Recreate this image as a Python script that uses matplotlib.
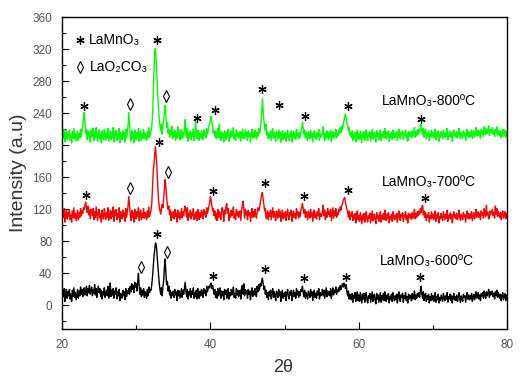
import numpy as np
import matplotlib
matplotlib.use('Agg')
import matplotlib.pyplot as plt

plt.rcParams['font.family'] = ['Liberation Sans', 'DejaVu Sans']

# 2-theta grid, 0.1 degree steps from 20 to 80
two_theta = np.linspace(20, 80, 601)

# LaMnO3 calcined at 800 C (green), one row per degree
i_800 = [
    205, 216, 209, 220, 204, 213, 218, 207, 215, 210,
    219, 206, 212, 203, 217, 209, 221, 208, 214, 205,
    212, 218, 206, 215, 209, 220, 211, 217, 226, 234,
    241, 228, 215, 220, 207, 218, 211, 216, 204, 219,
    210, 214, 221, 206, 217, 209, 222, 212, 205, 216,
    219, 208, 213, 203, 218, 211, 207, 220, 214, 206,
    215, 209, 221, 205, 212, 218, 207, 216, 210, 222,
    204, 217, 211, 219, 206, 214, 209, 221, 203, 216,
    212, 207, 218, 210, 215, 204, 220, 209, 216, 224,
    241, 226, 212, 205, 218, 209, 215, 203, 219, 211,
    207, 216, 210, 221, 205, 213, 218, 206, 214, 209,
    220, 208, 215, 211, 206, 217, 209, 222, 210, 214,
    218, 224, 238, 262, 294, 318, 321, 305, 284, 262,
    246, 232, 225, 218, 226, 214, 224, 232, 240, 250,
    236, 222, 228, 215, 220, 210, 218, 213, 224, 208,
    216, 211, 219, 206, 214, 209, 223, 212, 218, 207,
    213, 220, 208, 216, 211, 219, 232, 216, 209, 221,
    205, 214, 210, 218, 207, 215, 211, 220, 206, 213,
    230, 216, 208, 219, 211, 206, 215, 209, 218, 213,
    207, 219, 212, 216, 209, 221, 214, 218, 224, 227,
    231, 236, 229, 222, 215, 219, 211, 217, 208, 214,
    221, 209, 226, 212, 206, 217, 210, 215, 204, 218,
    212, 207, 216, 210, 220, 205, 214, 209, 218, 211,
    215, 222, 208, 213, 206, 219, 211, 216, 209, 214,
    217, 205, 213, 220, 209, 215, 208, 219, 212, 216,
    206, 218, 211, 215, 204, 213, 220, 209, 216, 210,
    219, 212, 208, 216, 211, 221, 214, 218, 226, 238,
    258, 244, 232, 224, 219, 226, 212, 217, 208, 215,
    210, 218, 206, 214, 221, 209, 216, 211, 205, 217,
    213, 208, 219, 210, 216, 204, 212, 218, 207, 214,
    209, 216, 205, 213, 219, 210, 206, 215, 211, 218,
    204, 212, 217, 209, 214, 207, 220, 211, 216, 208,
    215, 210, 218, 221, 229, 222, 214, 219, 209, 216,
    211, 206, 217, 213, 208, 219, 210, 215, 204, 214,
    218, 209, 213, 207, 216, 211, 220, 206, 214, 210,
    212, 216, 223, 211, 206, 215, 209, 218, 213, 207,
    216, 210, 219, 205, 213, 217, 208, 214, 211, 220,
    209, 215, 212, 218, 214, 222, 216, 224, 220, 226,
    230, 236, 239, 234, 228, 224, 218, 222, 213, 216,
    210, 218, 206, 214, 209, 216, 204, 213, 219, 208,
    214, 207, 218, 211, 203, 215, 209, 217, 206, 212,
    219, 210, 206, 214, 211, 217, 205, 213, 220, 208,
    213, 216, 209, 204, 218, 211, 215, 207, 212, 219,
    206, 214, 210, 217, 209, 221, 212, 208, 216, 211,
    218, 205, 213, 210, 216, 207, 219, 212, 209, 215,
    210, 217, 206, 214, 220, 211, 208, 216, 213, 218,
    207, 215, 212, 219, 209, 214, 205, 217, 211, 216,
    213, 209, 218, 211, 215, 222, 210, 217, 212, 219,
    214, 220, 216, 223, 226, 218, 213, 221, 210, 216,
    220, 208, 215, 212, 218, 206, 214, 210, 219, 211,
    216, 209, 213, 220, 207, 215, 211, 218, 205, 213,
    210, 217, 212, 208, 219, 214, 209, 216, 211, 221,
    207, 214, 211, 218, 210, 216, 205, 213, 219, 212,
    215, 210, 217, 209, 214, 221, 212, 208, 216, 213,
    209, 218, 213, 215, 206, 214, 220, 211, 217, 210,
    216, 211, 219, 208, 213, 218, 210, 215, 222, 212,
    214, 219, 212, 217, 209, 220, 215, 218, 211, 223,
    217, 213, 221, 215, 218, 224, 212, 220, 216, 219,
    222, 214, 218, 211, 220, 216, 223, 213, 219, 215,
    212, 218, 209, 216, 220, 211, 214, 219, 210, 217,
    213,
]

# LaMnO3 calcined at 700 C (red)
i_700 = [
    106, 117, 110, 121, 104, 113, 119, 108, 116, 111,
    119, 107, 113, 104, 118, 110, 122, 109, 115, 106,
    113, 119, 107, 116, 110, 121, 112, 118, 115, 122,
    120, 126, 129, 121, 116, 124, 113, 119, 108, 120,
    118, 112, 121, 107, 117, 110, 123, 114, 106, 117,
    120, 109, 114, 104, 119, 112, 108, 121, 115, 107,
    116, 110, 122, 106, 113, 119, 108, 117, 111, 123,
    105, 118, 112, 120, 107, 115, 110, 122, 104, 117,
    113, 108, 119, 111, 116, 105, 121, 110, 117, 124,
    136, 125, 113, 106, 119, 110, 116, 104, 120, 112,
    108, 117, 111, 122, 106, 114, 119, 107, 115, 110,
    121, 109, 116, 112, 107, 118, 110, 123, 111, 115,
    119, 128, 148, 168, 176, 190, 198, 186, 170, 150,
    132, 124, 118, 114, 120, 126, 122, 134, 146, 157,
    148, 134, 126, 120, 124, 113, 119, 106, 116, 110,
    117, 108, 120, 111, 115, 104, 119, 110, 116, 107,
    114, 121, 109, 117, 112, 120, 124, 117, 110, 122,
    106, 115, 111, 119, 108, 116, 112, 121, 107, 114,
    109, 117, 106, 120, 112, 107, 116, 110, 119, 114,
    108, 120, 113, 117, 110, 122, 115, 119, 124, 128,
    136, 131, 124, 118, 121, 112, 118, 108, 115, 106,
    120, 110, 117, 113, 107, 118, 122, 116, 105, 119,
    114, 124, 127, 115, 121, 106, 115, 110, 119, 112,
    116, 123, 109, 114, 107, 120, 112, 117, 110, 115,
    118, 106, 119, 124, 130, 121, 109, 120, 113, 117,
    107, 119, 112, 116, 105, 114, 121, 110, 117, 111,
    120, 113, 109, 117, 122, 118, 121, 126, 133, 138,
    141, 134, 126, 118, 121, 108, 113, 118, 107, 116,
    111, 119, 107, 115, 122, 110, 117, 112, 106, 118,
    114, 109, 120, 111, 117, 105, 113, 119, 108, 115,
    110, 117, 106, 114, 120, 111, 107, 116, 112, 119,
    105, 113, 118, 110, 115, 108, 121, 112, 117, 109,
    116, 111, 119, 122, 127, 121, 115, 120, 110, 117,
    112, 107, 118, 114, 109, 120, 111, 116, 105, 115,
    119, 110, 114, 108, 117, 112, 121, 107, 115, 111,
    113, 117, 125, 112, 119, 107, 116, 110, 121, 114,
    117, 111, 120, 106, 114, 122, 109, 118, 112, 121,
    110, 116, 113, 120, 117, 123, 119, 125, 127, 131,
    133, 135, 129, 124, 120, 116, 110, 118, 107, 114,
    111, 117, 106, 113, 108, 115, 103, 112, 118, 107,
    112, 105, 116, 109, 102, 113, 107, 115, 104, 110,
    117, 108, 104, 112, 109, 115, 103, 111, 118, 106,
    111, 114, 107, 102, 116, 109, 113, 105, 110, 117,
    104, 112, 108, 115, 107, 119, 110, 106, 114, 109,
    116, 103, 111, 108, 114, 105, 117, 110, 107, 113,
    108, 115, 104, 112, 118, 109, 106, 114, 111, 116,
    105, 113, 110, 117, 107, 112, 103, 115, 109, 114,
    111, 107, 116, 109, 113, 120, 108, 115, 110, 117,
    112, 118, 114, 121, 116, 124, 125, 113, 118, 110,
    116, 106, 113, 110, 116, 104, 112, 108, 117, 109,
    114, 107, 111, 118, 105, 113, 109, 116, 103, 111,
    108, 115, 110, 106, 117, 112, 107, 114, 109, 119,
    105, 112, 109, 116, 108, 114, 103, 111, 117, 110,
    113, 108, 115, 107, 112, 119, 110, 106, 114, 111,
    107, 116, 111, 113, 104, 112, 118, 109, 115, 108,
    114, 109, 117, 106, 111, 116, 108, 113, 120, 110,
    112, 117, 110, 115, 107, 118, 113, 116, 109, 121,
    115, 111, 125, 113, 116, 108, 110, 118, 114, 117,
    120, 112, 116, 109, 124, 114, 121, 111, 117, 113,
    110, 116, 107, 114, 118, 109, 112, 117, 108, 115,
    111,
]

# LaMnO3 calcined at 600 C (black)
i_600 = [
    7, 18, 11, 21, 5, 14, 20, 9, 17, 12,
    20, 8, 14, 5, 19, 11, 22, 10, 16, 7,
    14, 20, 9, 18, 12, 23, 14, 20, 11, 17,
    22, 13, 19, 24, 12, 21, 16, 25, 14, 19,
    23, 12, 20, 15, 26, 13, 21, 10, 18, 24,
    16, 21, 11, 19, 8, 17, 13, 22, 10, 15,
    19, 12, 24, 9, 16, 28, 11, 19, 13, 21,
    9, 18, 14, 22, 8, 17, 12, 20, 6, 15,
    13, 9, 19, 12, 17, 7, 21, 11, 18, 15,
    21, 14, 24, 17, 27, 20, 25, 16, 29, 23,
    27, 18, 30, 40, 24, 14, 22, 11, 19, 13,
    21, 10, 17, 14, 9, 20, 12, 23, 16, 20,
    19, 26, 36, 48, 62, 70, 78, 76, 64, 52,
    40, 28, 20, 14, 22, 12, 24, 30, 48, 58,
    40, 26, 30, 18, 24, 13, 19, 9, 16, 12,
    18, 10, 20, 13, 17, 6, 19, 12, 18, 9,
    15, 21, 10, 19, 14, 22, 29, 18, 11, 20,
    8, 17, 13, 21, 10, 18, 14, 22, 9, 16,
    11, 19, 8, 21, 14, 9, 18, 12, 20, 16,
    10, 21, 15, 19, 12, 24, 17, 21, 24, 22,
    26, 28, 21, 25, 19, 14, 20, 10, 17, 9,
    21, 12, 19, 22, 9, 18, 13, 17, 7, 20,
    14, 19, 9, 17, 21, 8, 16, 12, 20, 13,
    17, 23, 10, 15, 9, 21, 13, 19, 11, 16,
    19, 8, 22, 25, 14, 27, 12, 20, 15, 18,
    9, 20, 14, 18, 7, 16, 22, 11, 18, 13,
    21, 15, 11, 24, 17, 26, 19, 27, 24, 30,
    34, 28, 20, 24, 14, 19, 10, 16, 7, 17,
    12, 19, 8, 16, 21, 10, 17, 13, 6, 18,
    15, 10, 20, 12, 17, 5, 14, 19, 9, 15,
    11, 17, 6, 15, 20, 12, 8, 17, 13, 19,
    6, 14, 19, 11, 16, 9, 21, 13, 18, 10,
    17, 12, 20, 18, 24, 16, 11, 19, 9, 16,
    13, 8, 18, 15, 10, 20, 12, 17, 6, 16,
    19, 10, 15, 9, 18, 13, 21, 8, 16, 12,
    14, 20, 12, 19, 9, 16, 22, 11, 18, 13,
    17, 12, 21, 9, 15, 22, 13, 19, 16, 23,
    14, 20, 17, 22, 18, 25, 20, 24, 27, 23,
    28, 25, 21, 26, 17, 12, 18, 8, 14, 10,
    7, 15, 4, 13, 9, 16, 5, 12, 17, 6,
    13, 5, 16, 9, 3, 14, 8, 15, 4, 11,
    16, 7, 3, 12, 9, 15, 4, 11, 17, 5,
    11, 14, 6, 2, 15, 8, 13, 4, 10, 16,
    4, 12, 7, 15, 6, 17, 9, 5, 13, 8,
    15, 3, 11, 8, 14, 5, 16, 10, 6, 12,
    7, 14, 3, 12, 17, 8, 5, 13, 10, 15,
    4, 12, 9, 16, 6, 11, 3, 14, 8, 13,
    10, 6, 15, 8, 12, 18, 7, 13, 9, 15,
    11, 16, 10, 19, 24, 14, 9, 17, 6, 13,
    15, 5, 12, 8, 14, 3, 11, 6, 15, 7,
    12, 5, 9, 16, 4, 11, 7, 14, 3, 10,
    6, 13, 9, 5, 15, 10, 6, 12, 8, 16,
    4, 11, 8, 14, 6, 12, 3, 10, 15, 7,
    11, 6, 13, 5, 10, 16, 8, 4, 12, 9,
    5, 14, 10, 12, 4, 11, 16, 8, 13, 7,
    12, 8, 15, 5, 10, 14, 7, 11, 17, 9,
    11, 16, 8, 13, 6, 15, 12, 16, 9, 18,
    13, 9, 17, 12, 15, 20, 10, 17, 13, 16,
    18, 11, 15, 8, 17, 12, 19, 10, 16, 12,
    9, 14, 6, 12, 16, 7, 11, 15, 6, 13,
    10,
]

assert len(i_800) == len(i_700) == len(i_600) == len(two_theta)

# phase markers: (2theta, height)
stars_800 = [(23.0, 249), (32.85, 332), (38.25, 234), (40.6, 244), (47.0, 270),
             (49.3, 250), (52.8, 236), (58.6, 249), (68.4, 233)]
diam_800 = [(29.2, 252), (34.0, 262)]
stars_700 = [(23.2, 138), (33.1, 204), (40.4, 143), (47.4, 153), (52.6, 137),
             (58.6, 144), (68.9, 134)]
diam_700 = [(29.2, 147), (34.3, 166)]
stars_600 = [(32.8, 89), (40.4, 37), (47.4, 45), (52.6, 34), (58.3, 35), (68.3, 36)]
diam_600 = [(30.6, 48), (34.2, 67)]

sample_labels = ['LaMnO₃-800ºC', 'LaMnO₃-700ºC', 'LaMnO₃-600ºC']
label_pos = [(63.1, 255), (63.1, 154), (62.9, 55)]

fig = plt.figure(figsize=(5.3, 3.8), dpi=100)
ax = fig.add_axes([0.117, 0.133, 0.840, 0.822])

ax.plot(two_theta, i_800, color='#00ff00', lw=1.0)
ax.plot(two_theta, i_700, color='#ff0000', lw=1.0)
ax.plot(two_theta, i_600, color='black', lw=1.0)

star_kw = dict(ls='none', marker=(6, 2, 0), ms=6, mew=0.9, color='black')
diam_kw = dict(ls='none', marker='d', ms=5.8, mew=0.8, mfc='white', mec='black')
for pts in (stars_800, stars_700, stars_600):
    x, y = zip(*pts)
    ax.plot(x, y, **star_kw)
for pts in (diam_800, diam_700, diam_600):
    x, y = zip(*pts)
    ax.plot(x, y, **diam_kw)

# legend
ax.plot([22.4], [331], **star_kw)
ax.plot([22.4], [298], **diam_kw)
ax.text(23.6, 331, 'LaMnO₃', fontsize=10, va='center')
ax.text(23.7, 298, 'LaO₂CO₃', fontsize=10, va='center')

for lab, (x, y) in zip(sample_labels, label_pos):
    ax.text(x, y, lab, fontsize=10, va='center')

ax.set_xlim(20, 80)
ax.set_ylim(-30, 360)
ax.set_xticks([20, 40, 60, 80])
ax.set_xticks([30, 50, 70], minor=True)
ax.set_yticks(np.arange(0, 361, 40))
ax.set_yticks(np.arange(-20, 361, 40), minor=True)
ax.tick_params(which='both', direction='in', top=False, right=False,
               labelcolor='#555555', labelsize=8.5, width=0.8)
ax.tick_params(which='major', length=5, pad=7)
ax.tick_params(which='minor', length=3)
for s in ax.spines.values():
    s.set_linewidth(1.0)

fig.text(0.034, 0.545, 'Intensity (a.u)', rotation=90, ha='center', va='center',
         fontsize=14, color='#333333')
fig.text(283 / 530, (380 - 368) / 380, '2θ', ha='center', va='center',
         fontsize=13, color='#333333')

fig.savefig('out.png', dpi=100)
